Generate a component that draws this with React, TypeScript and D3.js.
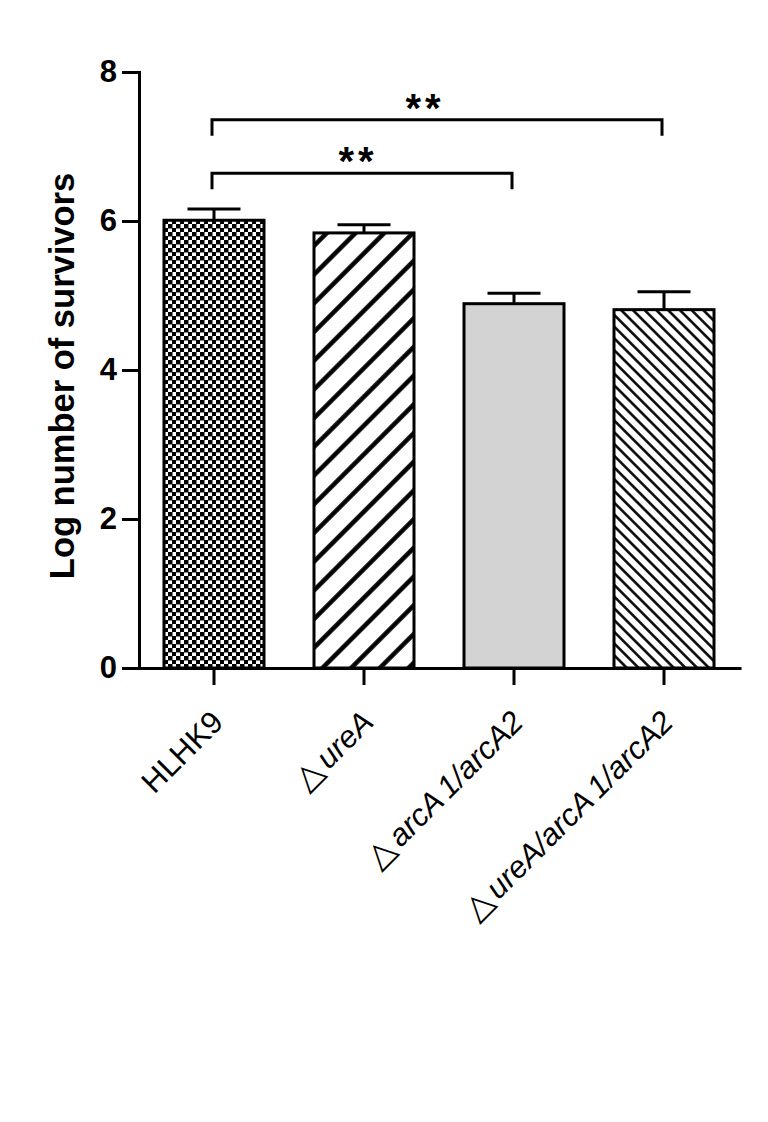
import React, { useEffect, useRef } from 'react'
import * as d3 from 'd3'

// strains, means and SEM
const categories = ['HLHK9', '△ureA', '△arcA1/arcA2', '△ureA/arcA1/arcA2']
const means = [6.01, 5.84, 4.89, 4.81]
const sems = [0.15, 0.11, 0.14, 0.24]
const yTicks = [0, 2, 4, 6, 8]
const yTitle = 'Log number of survivors'

// significance brackets (level is in y units)
const comparisons = [
  { from: '△arcA1/arcA2', level: 6.64, label: '**' },
  { from: '△ureA/arcA1/arcA2', level: 7.36, label: '**' }
]
const reference = 'HLHK9'

const fills = ['url(#checker)', 'url(#hatchWide)', '#d3d3d3', 'url(#hatchThin)']
const font = "'Liberation Sans', Arial, sans-serif"

export default function App() {
  const ref = useRef<SVGSVGElement>(null)

  useEffect(() => {
    const svg = d3.select(ref.current)
    svg.selectAll('*').remove()

    const x = d3
      .scaleBand()
      .domain(categories)
      .range([139, 739])
      .paddingInner(1 / 3)
      .paddingOuter(1 / 6)
    const y = d3.scaleLinear().domain([0, 8]).range([668, 72])
    const cx = (c: string) => (x(c) as number) + x.bandwidth() / 2

    // fill patterns
    const defs = svg.append('defs')
    const checker = defs
      .append('pattern')
      .attr('id', 'checker')
      .attr('patternUnits', 'userSpaceOnUse')
      .attr('width', 8)
      .attr('height', 8)
    checker.append('rect').attr('width', 8).attr('height', 8).attr('fill', '#fff')
    checker.append('rect').attr('width', 4.5).attr('height', 4.5).attr('fill', '#000')
    checker.append('rect').attr('x', 4).attr('y', 4).attr('width', 4.5).attr('height', 4.5).attr('fill', '#000')

    const hatch = (id: string, size: number, w: number, angle: number) => {
      const p = defs
        .append('pattern')
        .attr('id', id)
        .attr('patternUnits', 'userSpaceOnUse')
        .attr('width', size)
        .attr('height', size)
        .attr('patternTransform', `rotate(${angle})`)
      p.append('rect').attr('width', size).attr('height', size).attr('fill', '#fff')
      p.append('line')
        .attr('x1', size / 2)
        .attr('x2', size / 2)
        .attr('y1', 0)
        .attr('y2', size)
        .attr('stroke', '#000')
        .attr('stroke-width', w)
    }
    hatch('hatchWide', 20.3, 4.5, 45)
    hatch('hatchThin', 8.3, 2.5, -45)

    // bars
    svg
      .append('g')
      .selectAll('rect')
      .data(categories)
      .enter()
      .append('rect')
      .attr('x', d => x(d) as number)
      .attr('y', (d, i) => y(means[i]))
      .attr('width', x.bandwidth())
      .attr('height', (d, i) => y(0) - y(means[i]))
      .attr('fill', (d, i) => fills[i])
      .attr('stroke', '#000')
      .attr('stroke-width', 3)

    // error bars (upper only)
    const err = svg.append('g').attr('stroke', '#000').attr('stroke-width', 3)
    categories.forEach((c, i) => {
      err
        .append('line')
        .attr('x1', cx(c))
        .attr('x2', cx(c))
        .attr('y1', y(means[i]))
        .attr('y2', y(means[i] + sems[i]))
      err
        .append('line')
        .attr('x1', cx(c) - 26.5)
        .attr('x2', cx(c) + 26.5)
        .attr('y1', y(means[i] + sems[i]))
        .attr('y2', y(means[i] + sems[i]))
    })

    // axes
    const yAxis = svg
      .append('g')
      .attr('transform', 'translate(139, 0)')
      .call(
        d3
          .axisLeft(y)
          .tickValues(yTicks)
          .tickSize(17)
          .tickSizeOuter(0)
          .tickPadding(5)
      )
    const xAxis = svg
      .append('g')
      .attr('transform', `translate(0, ${y(0)})`)
      .call(
        d3
          .axisBottom(x)
          .tickSize(17)
          .tickSizeOuter(0)
          .tickFormat(() => '')
      )
    xAxis.select('.domain').attr('d', `M138,0.5H740`)
    ;[yAxis, xAxis].forEach(a => {
      a.select('.domain').attr('stroke-width', 3).attr('stroke-linecap', 'square')
      a.selectAll('.tick line').attr('stroke-width', 3)
    })
    yAxis
      .selectAll('.tick text')
      .attr('font-family', font)
      .attr('font-weight', 'bold')
      .attr('font-size', 31)
      .attr('fill', '#000')

    // x tick labels, rotated
    const labels = svg.append('g').attr('font-family', font).attr('font-size', 31)
    categories.forEach(c => {
      const lx = cx(c) + 11
      const ly = 724
      const t = labels
        .append('text')
        .attr('x', lx)
        .attr('y', ly)
        .attr('text-anchor', 'end')
        .attr('transform', `rotate(-45, ${lx}, ${ly})`)
      if (c.startsWith('△')) {
        t.append('tspan')
          .attr('font-family', "'DejaVu Sans', sans-serif")
          .attr('font-weight', 200)
          .attr('font-size', 34)
          .text('△')
        const rest = c.slice(1).split('A1')
        rest.forEach((part, j) => {
          const s = t.append('tspan').attr('font-style', 'italic')
          s.attr('dx', j > 0 ? 5 : 5)
          s.text(j < rest.length - 1 ? part + 'A' : j > 0 ? '1' + part : part)
        })
      } else {
        t.text(c)
      }
    })

    // y title
    svg
      .append('text')
      .attr('transform', 'translate(74, 376) rotate(-90)')
      .attr('text-anchor', 'middle')
      .attr('font-family', font)
      .attr('font-weight', 'bold')
      .attr('font-size', 34.5)
      .text(yTitle)

    // significance brackets
    const sig = svg.append('g')
    comparisons.forEach((d, i) => {
      const x1 = cx(reference) - 2
      const x2 = cx(d.from) - 2
      const by = y(d.level)
      sig
        .append('path')
        .attr('d', `M${x1},${by + 16}V${by}H${x2}V${by + 16}`)
        .attr('fill', 'none')
        .attr('stroke', '#000')
        .attr('stroke-width', 3)
      sig
        .append('text')
        .attr('x', (x1 + x2) / 2 - 4 - 8 * i)
        .attr('y', by + 2)
        .attr('text-anchor', 'middle')
        .attr('font-family', font)
        .attr('font-weight', 'bold')
        .attr('font-size', 40)
        .attr('letter-spacing', 4)
        .text(d.label)
    })
  }, [])

  return (
    <svg
      ref={ref}
      width={768}
      height={1122}
      style={{ position: 'absolute', left: 0, top: 0, background: '#fff' }}
    />
  )
}
